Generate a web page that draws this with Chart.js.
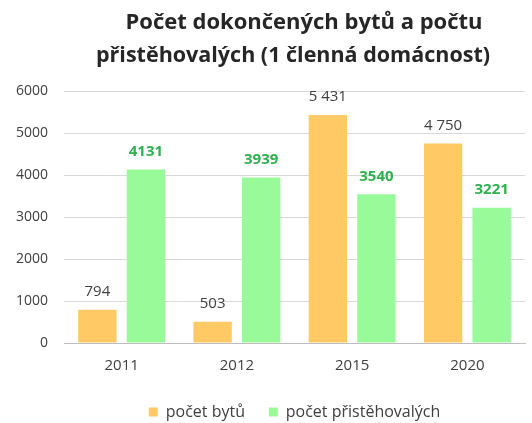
<!DOCTYPE html>
<html>
<head>
<meta charset="utf-8">
<script src="https://cdn.jsdelivr.net/npm/chart.js@4"></script>
<style>
  html, body { margin: 0; padding: 0; background: #fff; }
  #wrap { width: 532px; height: 423px; }
</style>
</head>
<body>
<div id="wrap"><canvas id="c" width="532" height="423"></canvas></div>
<script>
// data
const roky = ['2011', '2012', '2015', '2020'];
const bytyValues = [794, 503, 5431, 4750];
const pristehovaliValues = [4131, 3939, 3540, 3221];
const yTicks = [0, 1000, 2000, 3000, 4000, 5000, 6000];
const titulek = ['Počet dokončených bytů a počtu', 'přistěhovalých (1 členná domácnost)'];

const fmtSpace = v => v >= 1000 ? String(v).replace(/\B(?=(\d{3})+(?!\d))/g, ' ') : String(v);

// titulek - posunutý doprava jako v originálu
const titlePlugin = {
  id: 'titlePlugin',
  afterDraw(chart) {
    const ctx = chart.ctx;
    ctx.save();
    ctx.font = 'bold 22px "Open Sans"';
    ctx.fillStyle = '#262626';
    ctx.textAlign = 'center';
    ctx.textBaseline = 'middle';
    ctx.fillText(titulek[0], 304, 23);
    ctx.font = 'bold 21.5px "Open Sans"';
    ctx.fillText(titulek[1], 293, 56);
    ctx.restore();
  }
};

// popisky nad sloupci
const valueLabels = {
  id: 'valueLabels',
  afterDatasetsDraw(chart) {
    const ctx = chart.ctx;
    ctx.save();
    ctx.textAlign = 'center';
    ctx.textBaseline = 'middle';
    chart.data.datasets.forEach((ds, i) => {
      const meta = chart.getDatasetMeta(i);
      meta.data.forEach((bar, j) => {
        const v = ds.data[j];
        if (i === 0) {
          ctx.font = '15px "Open Sans"';
          ctx.fillStyle = '#404040';
          ctx.fillText(fmtSpace(v), bar.x, bar.y - 18);
        } else {
          ctx.font = 'bold 15px "Open Sans"';
          ctx.fillStyle = '#2fb14f';
          ctx.fillText(String(v), bar.x, bar.y - 18);
        }
      });
    });
    ctx.restore();
  }
};

new Chart(document.getElementById('c'), {
  type: 'bar',
  data: {
    labels: roky,
    datasets: [
      {
        label: 'počet bytů',
        data: bytyValues,
        backgroundColor: '#ffc966',
        categoryPercentage: 0.843,
        barPercentage: 0.79
      },
      {
        label: 'počet přistěhovalých',
        data: pristehovaliValues,
        backgroundColor: '#99fa99',
        categoryPercentage: 0.843,
        barPercentage: 0.79
      }
    ]
  },
  options: {
    responsive: false,
    animation: false,
    layout: { padding: { left: 0, right: 7, top: 91, bottom: -7 } },
    plugins: {
      title: { display: false },
      legend: {
        position: 'bottom',
        fullSize: false,
        title: { display: true, text: ' ', font: { size: 10 }, padding: 0 },
        labels: {
          color: '#404040',
          font: { family: 'Open Sans', size: 16 },
          boxWidth: 9,
          boxHeight: 9,
          padding: 3,
          generateLabels: chart => {
            const items = Chart.defaults.plugins.legend.labels.generateLabels(chart);
            items[0].text = items[0].text + '     ';
            return items;
          }
        }
      },
      tooltip: { enabled: false }
    },
    scales: {
      x: {
        grid: { display: false, drawTicks: false },
        border: { color: '#bfbfbf' },
        ticks: { color: '#404040', font: { family: 'Open Sans', size: 15 }, padding: 14 }
      },
      y: {
        min: 0,
        max: 6000,
        afterBuildTicks: axis => { axis.ticks = yTicks.map(v => ({ value: v })); },
        grid: { color: '#d9d9d9', drawTicks: false },
        border: { display: false },
        ticks: {
          color: '#404040',
          font: { family: 'Open Sans', size: 14 },
          padding: 16,
          callback: v => String(v)
        }
      }
    }
  },
  plugins: [valueLabels, titlePlugin]
});
</script>
</body>
</html>
